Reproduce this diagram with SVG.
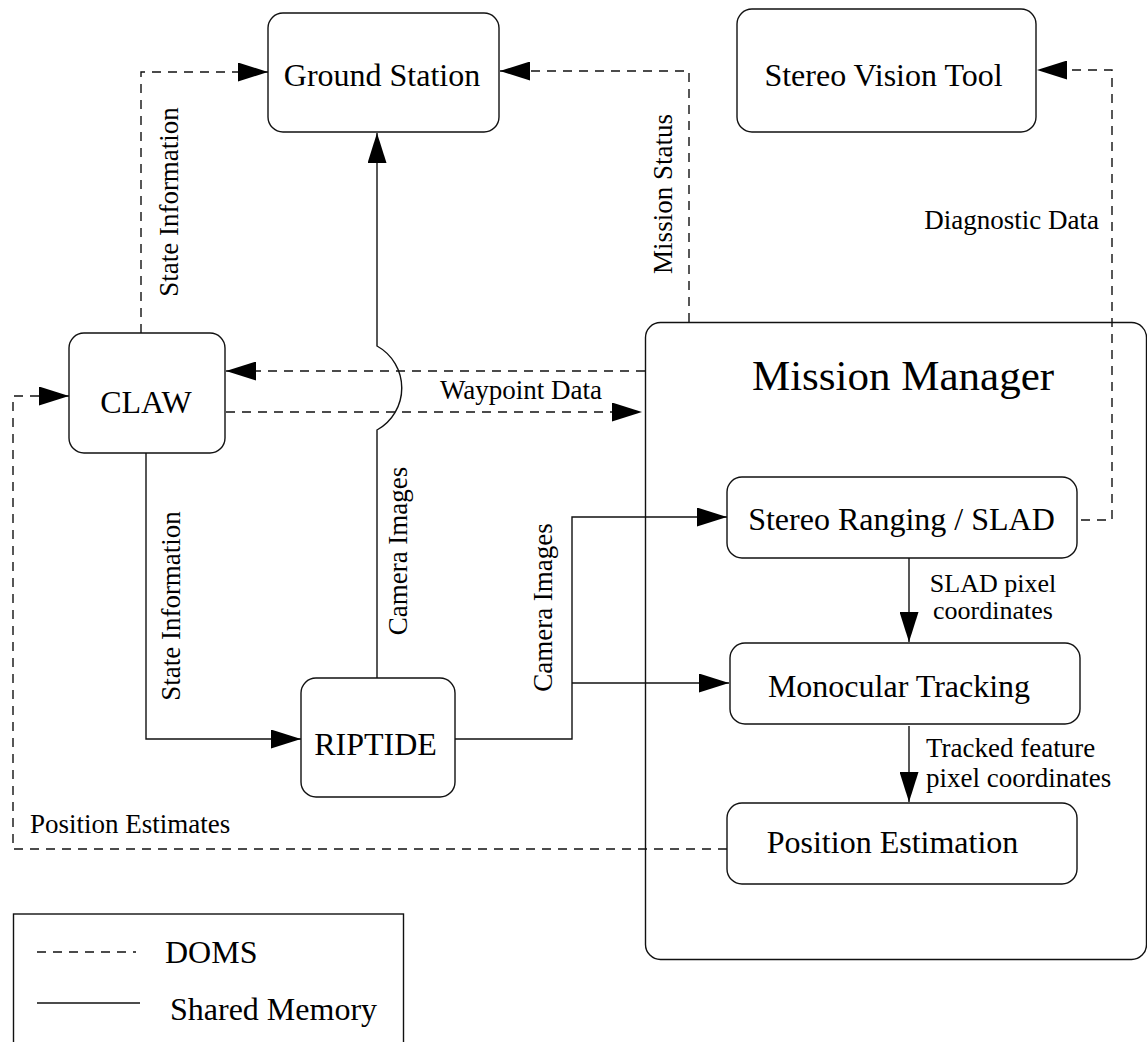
<svg xmlns="http://www.w3.org/2000/svg" width="1147" height="1042" viewBox="0 0 1147 1042">
<style>
.box{fill:#fff;stroke:#111;stroke-width:1.4}
.t{font-family:"Liberation Serif","Times New Roman",serif;fill:#000}
.big{font-size:32px;text-anchor:middle}
.lbl{font-size:27px}
.sm{font-size:26px}
.mid{text-anchor:middle}
.end{text-anchor:end}
.ln{fill:none;stroke:#111;stroke-width:1.4}
.dash{stroke-dasharray:9 7}
</style>
<defs>
<marker id="ah" markerUnits="userSpaceOnUse" viewBox="0 0 30 19" refX="30" refY="9.5" markerWidth="30" markerHeight="19" orient="auto">
<path d="M0,0 L30,9.5 L0,19 z" fill="#000"/>
</marker>
</defs>
<rect width="1147" height="1042" fill="#fff"/>

<g id="mission-manager">
<rect class="box" x="645.5" y="322.5" width="501" height="637" rx="15"/>
<text class="t" x="903" y="390" font-size="43" text-anchor="middle">Mission Manager</text>
</g>

<g id="connectors">
<path class="ln dash" d="M141,333 V72 H268" marker-end="url(#ah)"/>
<path class="ln dash" d="M689,322 V71 H500" marker-end="url(#ah)"/>
<path class="ln dash" d="M1081,520 H1112 V70 H1037" marker-end="url(#ah)"/>
<path class="ln dash" d="M645,371 H226" marker-end="url(#ah)"/>
<path class="ln dash" d="M226,412 H642" marker-end="url(#ah)"/>
<path class="ln dash" d="M727,849 H13 V396 H69" marker-end="url(#ah)"/>
<path class="ln" d="M377,678 V430 A48,48 0 0 0 377,346 V133" marker-end="url(#ah)"/>
<path class="ln" d="M146,453 V739 H301" marker-end="url(#ah)"/>
<path class="ln" d="M455,739 H572 V517 H727" marker-end="url(#ah)"/>
<path class="ln" d="M572,683 H729" marker-end="url(#ah)"/>
<path class="ln" d="M909,558 V642" marker-end="url(#ah)"/>
<path class="ln" d="M909,726 V802" marker-end="url(#ah)"/>
<text class="t lbl mid" transform="translate(178,202) rotate(-90)">State Information</text>
<text class="t lbl mid" transform="translate(672,194) rotate(-90)">Mission Status</text>
<text class="t lbl end" x="1099" y="229">Diagnostic Data</text>
<text class="t lbl" x="440" y="399">Waypoint Data</text>
<text class="t lbl mid" transform="translate(407,551) rotate(-90)">Camera Images</text>
<text class="t lbl mid" transform="translate(552,607.5) rotate(-90)">Camera Images</text>
<text class="t lbl mid" transform="translate(180,606) rotate(-90)">State Information</text>
<text class="t lbl" x="30" y="833">Position Estimates</text>
<text class="t sm mid" x="993" y="592">SLAD pixel</text>
<text class="t sm mid" x="993" y="619">coordinates</text>
<text class="t lbl" x="926" y="757">Tracked feature</text>
<text class="t lbl" x="926" y="787">pixel coordinates</text>
</g>

<g id="ground-station">
<rect class="box" x="268" y="13" width="231" height="119" rx="15"/>
<text class="t big" x="382" y="86">Ground Station</text>
</g>
<g id="stereo-vision-tool">
<rect class="box" x="737" y="9" width="299" height="123" rx="15"/>
<text class="t big" x="883.5" y="86">Stereo Vision Tool</text>
</g>
<g id="claw">
<rect class="box" x="69" y="333" width="156" height="120" rx="15"/>
<text class="t big" x="146" y="413">CLAW</text>
</g>
<g id="riptide">
<rect class="box" x="301" y="678" width="154" height="119" rx="15"/>
<text class="t big" x="375.5" y="755">RIPTIDE</text>
</g>
<g id="stereo-ranging">
<rect class="box" x="727" y="477" width="350" height="81" rx="15"/>
<text class="t big" x="901.5" y="530">Stereo Ranging / SLAD</text>
</g>
<g id="monocular-tracking">
<rect class="box" x="730" y="643" width="350" height="81" rx="15"/>
<text class="t big" x="899" y="697">Monocular Tracking</text>
</g>
<g id="position-estimation">
<rect class="box" x="727" y="803" width="350" height="81" rx="15"/>
<text class="t big" x="892.5" y="853">Position Estimation</text>
</g>

<g id="legend">
<rect class="box" x="13.5" y="914" width="390" height="140" fill="none"/>
<path class="ln dash" d="M37,952 H136"/>
<path class="ln" d="M37,1003 H140"/>
<text class="t" x="165" y="963" font-size="32">DOMS</text>
<text class="t" x="170" y="1020" font-size="32">Shared Memory</text>
</g>
</svg>
